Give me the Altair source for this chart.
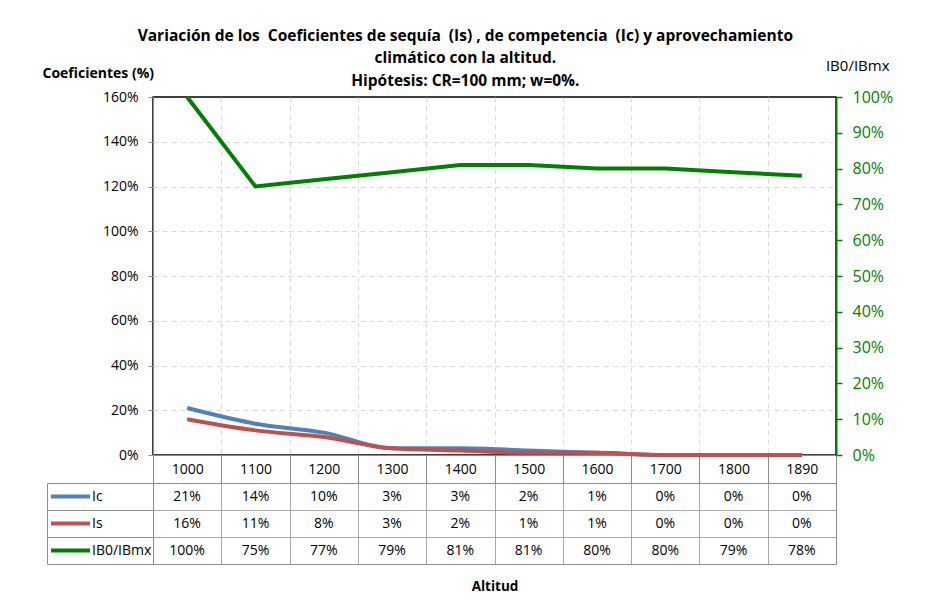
import altair as alt
import pandas as pd

FONT = "Open Sans"

altitudes = ["1000", "1100", "1200", "1300", "1400", "1500", "1600", "1700", "1800", "1890"]
ic = [0.21, 0.14, 0.10, 0.03, 0.03, 0.02, 0.01, 0.00, 0.00, 0.00]
is_ = [0.16, 0.11, 0.08, 0.03, 0.02, 0.01, 0.01, 0.00, 0.00, 0.00]
ib = [1.00, 0.75, 0.77, 0.79, 0.81, 0.81, 0.80, 0.80, 0.79, 0.78]
series = ["Ic", "Is", "IB0/IBmx"]
colors = ["#4F81BD", "#C0504D", "#008000"]
left_ticks = [0, 0.2, 0.4, 0.6, 0.8, 1.0, 1.2, 1.4, 1.6]
right_ticks = [0, 0.1, 0.2, 0.3, 0.4, 0.5, 0.6, 0.7, 0.8, 0.9, 1.0]
title_lines = [
    "Variación de los \u00a0Coeficientes de sequía \u00a0(Is) , de competencia \u00a0(Ic) y aprovechamiento",
    "climático con la altitud.",
    "Hipótesis: CR=100 mm; w=0%.",
]

rows = []
for name, vals in zip(series, [ic, is_, ib]):
    for a, v in zip(altitudes, vals):
        rows.append({"serie": name, "Altitud": a, "valor": v})
df = pd.DataFrame(rows)
df_left = df[df.serie.isin(["Ic", "Is"])]
df_right = df[df.serie == "IB0/IBmx"]

GRAY = "#8c8c8c"
W, H = 683, 358

color = alt.Color(
    "serie:N",
    scale=alt.Scale(domain=series, range=colors),
    legend=alt.Legend(
        orient="none", legendX=-104, legendY=386, title=None,
        symbolType="stroke", symbolStrokeWidth=4, symbolSize=1521,
        clipHeight=27, rowPadding=0, padding=0,
        labelFontSize=14, labelOffset=0, labelColor="black", labelFont=FONT,
    ),
)

x_top = alt.X(
    "Altitud:N", sort=altitudes, title=None,
    scale=alt.Scale(paddingInner=0, paddingOuter=0),
    axis=alt.Axis(
        tickBand="extent", tickSize=28, tickColor=GRAY, domainColor=GRAY,
        labelAngle=0, labelBaseline="middle", labelPadding=-14,
        labelFontSize=14, labelColor="black", labelFont=FONT,
        grid=True, gridDash=[5, 4], gridColor="#d9d9d9",
    ),
)

left = alt.Chart(df_left).mark_line(strokeWidth=4, interpolate="monotone").encode(
    x=x_top,
    y=alt.Y(
        "valor:Q",
        scale=alt.Scale(domain=[0, 1.6], nice=False),
        axis=alt.Axis(
            values=left_ticks, format=".0%", tickSize=5, tickColor=GRAY,
            domainColor=GRAY, labelPadding=10, labelFontSize=14, labelColor="black",
            labelFont=FONT, grid=True, gridDash=[5, 4], gridColor="#d9d9d9",
            gridOpacity=alt.condition("datum.value >= 1.59", alt.value(0), alt.value(1)),
            title="Coeficientes (%)", titleAngle=0, titleAlign="left",
            titleBaseline="middle", titleX=-111, titleY=-24, titleFontSize=14,
            titleFontWeight="bold", titleColor="black", titleFont=FONT,
        ),
    ),
    color=color,
)

right = alt.Chart(df_right).mark_line(strokeWidth=4).encode(
    x=x_top,
    y=alt.Y(
        "valor:Q",
        scale=alt.Scale(domain=[0, 1], nice=False),
        axis=alt.Axis(
            orient="right", values=right_ticks, format=".0%", tickSize=6,
            tickColor="#008000", tickWidth=1.5, domainColor="#008000", domainWidth=2,
            labelPadding=10, labelFontSize=16, labelColor="#008000", labelFont=FONT,
            grid=False,
            title="IB0/IBmx", titleAngle=0, titleAlign="right",
            titleBaseline="middle", titleX=53, titleY=-32, titleFontSize=15,
            titleFontWeight="normal", titleColor="black", titleFont=FONT,
        ),
    ),
    color=color,
)

top = alt.layer(left, right).resolve_scale(y="independent").properties(
    width=W, height=H, view=alt.ViewBackground(stroke="black", strokeWidth=1.5)
)

x_tab = alt.X(
    "Altitud:N", sort=altitudes,
    scale=alt.Scale(paddingInner=0, paddingOuter=0),
    axis=alt.Axis(
        tickBand="extent", labels=False, ticks=False, domain=False,
        grid=True, gridColor=GRAY, gridDash=[1, 0],
        title="Altitud", titleFontSize=13.5, titleFontWeight="bold",
        titleColor="black", titleFont=FONT, titlePadding=15,
    ),
)

cells = alt.Chart(df).mark_text(fontSize=14, color="black", font=FONT).encode(
    x=x_tab,
    y=alt.Y(
        "serie:N", sort=series,
        scale=alt.Scale(paddingInner=0, paddingOuter=0),
        axis=alt.Axis(
            title=None, tickBand="extent", labels=False, tickSize=106,
            tickColor=GRAY, domainColor=GRAY, grid=True, gridColor=GRAY,
            gridDash=[1, 0],
        ),
    ),
    text=alt.Text("valor:Q", format=".0%"),
)

edge = alt.Chart(df).mark_text(opacity=0).encode(
    x=x_tab,
    y=alt.Y(
        "serie:N", sort=series,
        scale=alt.Scale(paddingInner=0, paddingOuter=0),
        axis=alt.Axis(
            orient="left", offset=106, title=None, labels=False, ticks=False,
            domain=True, domainColor=GRAY, grid=False,
        ),
    ),
    text=alt.Text("valor:Q", format=".0%"),
)

table = alt.layer(cells, edge).resolve_scale(y="independent").properties(
    width=W, height=81, view=alt.ViewBackground(stroke=GRAY)
)

chart = alt.vconcat(top, table, spacing=28, bounds="flush").properties(
    title=alt.TitleParams(
        text=title_lines,
        fontSize=15.5, fontWeight="bold", color="black", font=FONT,
        anchor="middle", lineHeight=22.5, offset=-32, dx=-2,
    ),
    padding={"left": 33, "top": 20, "right": 5, "bottom": 5},
).resolve_scale(color="independent").resolve_legend(color="independent").configure(
    font=FONT
)

chart.save("out.html", embed_options={"renderer": "svg", "actions": False})
